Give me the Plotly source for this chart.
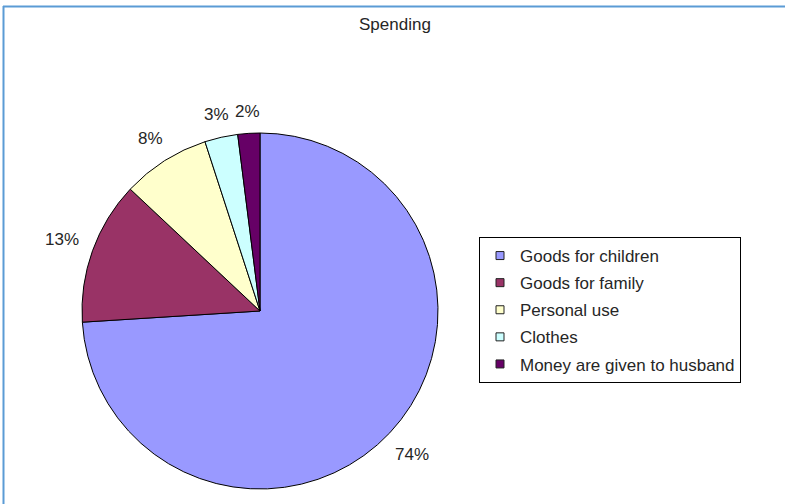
import math
import plotly.graph_objects as go

# Spending breakdown
categories = ["Goods for children", "Goods for family", "Personal use",
              "Clothes", "Money are given to husband"]
shares = [74, 13, 8, 3, 2]
colors = ["#9999FF", "#993366", "#FFFFCC", "#CCFFFF", "#660066"]

W, H = 785, 504
FONT = "Arial, Liberation Sans, sans-serif"
TEXT_COLOR = "#262626"
FS = 17

# pie placement in pixels
cx, cy, r = 260, 311, 178

fig = go.Figure()
fig.add_trace(go.Pie(
    labels=categories,
    values=shares,
    marker=dict(colors=colors, line=dict(color="black", width=1)),
    sort=False,
    direction="clockwise",
    rotation=0,
    textinfo="none",
    hoverinfo="label+percent",
    showlegend=False,
    domain=dict(x=[(cx - r) / W, (cx + r) / W],
                y=[1 - (cy + r) / H, 1 - (cy - r) / H]),
))

# legend entries, one group per category so rows can be spaced out
for name, col in zip(categories, colors):
    fig.add_trace(go.Scatter(
        x=[None], y=[None], mode="markers", name=name, legendgroup=name,
        marker=dict(symbol="square", size=8, color=col,
                    line=dict(color="#222", width=1)),
    ))

# percentage labels just outside each slice
total = sum(shares)
cum = 0
annotations = []
for v in shares:
    mid = (cum + v / 2) / total * 2 * math.pi
    cum += v
    txt = f"{v}%"
    hw = len(txt) * 5.8
    hh = 8
    sx, sy = math.sin(mid), -math.cos(mid)
    d = r + 13 + abs(sx) * hw + abs(sy) * hh
    px, py = cx + d * sx, cy + d * sy
    annotations.append(dict(
        x=px / W, y=1 - py / H, xref="paper", yref="paper",
        text=txt, showarrow=False, xanchor="center", yanchor="middle",
        font=dict(family=FONT, size=FS, color=TEXT_COLOR),
    ))

annotations.append(dict(
    x=395 / W, y=1 - 24 / H, xref="paper", yref="paper", text="Spending",
    showarrow=False, xanchor="center", yanchor="middle",
    font=dict(family=FONT, size=FS, color=TEXT_COLOR),
))

# blue frame along the top and left
shapes = [
    dict(type="line", xref="paper", yref="paper", x0=3 / W, x1=1,
         y0=1 - 6.5 / H, y1=1 - 6.5 / H, line=dict(color="#5B9BD5", width=2)),
    dict(type="line", xref="paper", yref="paper", x0=3.5 / W, x1=3.5 / W,
         y0=0, y1=1 - 6 / H, line=dict(color="#5B9BD5", width=2)),
]

fig.update_layout(
    width=W, height=H,
    margin=dict(l=0, r=0, t=0, b=0),
    paper_bgcolor="white", plot_bgcolor="white",
    xaxis=dict(visible=False), yaxis=dict(visible=False),
    annotations=annotations,
    shapes=shapes,
    showlegend=True,
    legend=dict(
        x=741 / W, y=1 - 237 / H, xanchor="right", yanchor="top",
        bordercolor="black", borderwidth=1, bgcolor="white",
        traceorder="grouped", tracegroupgap=2,
        font=dict(family=FONT, size=FS, color=TEXT_COLOR),
    ),
)

fig.write_html("out.html")
